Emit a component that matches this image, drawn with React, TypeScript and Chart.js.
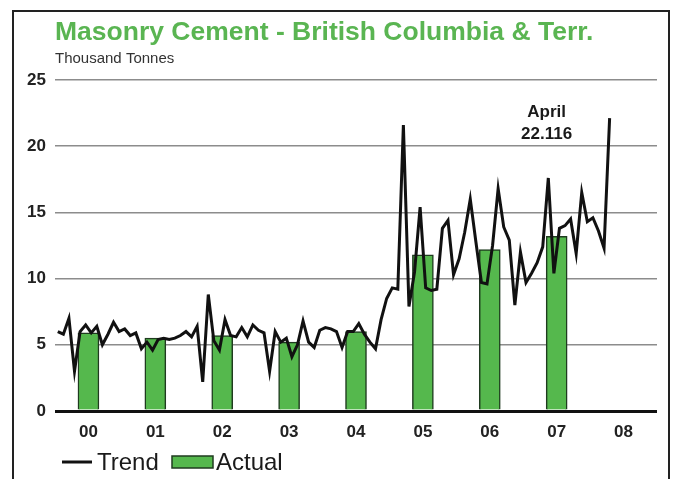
import React, { useEffect, useRef } from 'react';
import { Chart, registerables } from 'chart.js';

Chart.register(...registerables);

const yearLabels = ['00', '01', '02', '03', '04', '05', '06', '07', '08'];

// Monthly trend, Jan 2000 .. Apr 2008 (thousand tonnes)
const trendValues = [
  6.0, 5.8, 7.0, 3.0, 6.0, 6.5, 5.9, 6.4, 5.0, 5.8, 6.7, 6.0,
  6.2, 5.7, 5.9, 4.7, 5.2, 4.6, 5.4, 5.5, 5.4, 5.5, 5.7, 6.0,
  5.6, 6.4, 2.2, 8.8, 5.3, 4.6, 6.9, 5.7, 5.6, 6.3, 5.6, 6.5,
  6.1, 5.9, 3.0, 6.0, 5.2, 5.5, 4.1, 5.0, 6.8, 5.2, 4.8, 6.1,
  6.3, 6.2, 6.0, 4.8, 6.0, 6.0, 6.6, 5.8, 5.2, 4.7, 6.9, 8.5,
  9.3, 9.2, 21.6, 7.9, 10.5, 15.4, 9.3, 9.1, 9.2, 13.8, 14.4, 10.3,
  11.5, 13.5, 16.0, 12.8, 9.7, 9.6, 12.5, 16.8, 13.9, 12.9, 8.0, 12.0,
  9.7, 10.4, 11.2, 12.4, 17.6, 10.4, 13.8, 14.0, 14.5, 11.9, 16.5, 14.3,
  14.6, 13.6, 12.3, 22.116,
];

// Annual actual (monthly average), 2000 .. 2007
const actualValues = [5.9, 5.5, 5.7, 5.2, 6.0, 11.8, 12.2, 13.2];

const titleText = 'Masonry Cement - British Columbia & Terr.';
const subtitleText = 'Thousand Tonnes';
const annotationLabel = 'April';
const annotationValue = '22.116';
const legendTrend = 'Trend';
const legendActual = 'Actual';

const FONT = '"Liberation Sans", Arial, sans-serif';
const GREEN = '#55b84d';
const BAR_BORDER = '#1f3b1f';

export default function App() {
  const ref = useRef<HTMLCanvasElement | null>(null);

  useEffect(() => {
    if (!ref.current) return;
    const trendPoints = trendValues.map((v, i) => ({ x: i + 0.5, y: v }));
    const actualPoints = actualValues.map((v, k) => ({ x: k * 12 + 6, y: v }));

    const decor = {
      id: 'decor',
      beforeDraw(chart: any) {
        const { ctx, width, height } = chart;
        ctx.save();
        ctx.fillStyle = '#ffffff';
        ctx.fillRect(0, 0, width, height);
        ctx.restore();
      },
      afterDraw(chart: any) {
        const { ctx, chartArea } = chart;
        const xs = chart.scales.x;
        const ys = chart.scales.y;
        ctx.save();
        // title + subtitle
        ctx.textAlign = 'left';
        ctx.textBaseline = 'alphabetic';
        ctx.fillStyle = '#5ab552';
        ctx.font = `bold 26.5px ${FONT}`;
        ctx.fillText(titleText, chartArea.left, 40);
        ctx.fillStyle = '#333333';
        ctx.font = `15px ${FONT}`;
        ctx.fillText(subtitleText, chartArea.left, 63);

        // annotation near last point
        const lastX = xs.getPixelForValue(trendPoints[trendPoints.length - 1].x);
        const lastY = ys.getPixelForValue(trendPoints[trendPoints.length - 1].y);
        ctx.fillStyle = '#1a1a1a';
        ctx.textAlign = 'center';
        ctx.font = `bold 17px ${FONT}`;
        ctx.fillText(annotationLabel, lastX - 63, lastY - 1);
        ctx.fillText(annotationValue, lastX - 63, lastY + 21);

        // legend
        const ly = 462;
        ctx.strokeStyle = '#111111';
        ctx.lineWidth = 3;
        ctx.beginPath();
        ctx.moveTo(62, ly);
        ctx.lineTo(92, ly);
        ctx.stroke();
        ctx.textAlign = 'left';
        ctx.textBaseline = 'middle';
        ctx.font = `24px ${FONT}`;
        ctx.fillStyle = '#1a1a1a';
        ctx.fillText(legendTrend, 97, ly + 1);
        ctx.fillStyle = GREEN;
        ctx.fillRect(172, ly - 6, 41, 12);
        ctx.strokeStyle = BAR_BORDER;
        ctx.lineWidth = 1.5;
        ctx.strokeRect(172, ly - 6, 41, 12);
        ctx.fillStyle = '#1a1a1a';
        ctx.fillText(legendActual, 216, ly + 1);

        // frame
        ctx.strokeStyle = '#222222';
        ctx.lineWidth = 2;
        ctx.strokeRect(13, 11, 656, 520);
        ctx.restore();
      },
    };

    const chart = new Chart(ref.current, {
      type: 'bar',
      data: {
        datasets: [
          {
            type: 'line',
            label: legendTrend,
            data: trendPoints,
            borderColor: '#111111',
            borderWidth: 3,
            pointRadius: 0,
            tension: 0,
            order: 1,
          } as any,
          {
            type: 'bar',
            label: legendActual,
            data: actualPoints,
            backgroundColor: GREEN,
            borderColor: BAR_BORDER,
            borderWidth: 1.5,
            barThickness: 21,
            order: 2,
          } as any,
        ],
      },
      options: {
        responsive: false,
        animation: false,
        layout: { padding: { left: 0, right: 23, top: 80, bottom: 38 } },
        plugins: {
          legend: { display: false },
          tooltip: { enabled: false },
          title: { display: false },
        },
        scales: {
          x: {
            type: 'linear',
            min: 0,
            max: yearLabels.length * 12,
            offset: false,
            grid: { display: false, drawTicks: false },
            border: { display: false },
            afterBuildTicks: (scale: any) => {
              scale.ticks = yearLabels.map((_, k) => ({ value: k * 12 + 6 }));
            },
            afterFit: (scale: any) => {
              scale.height = 30;
            },
            ticks: {
              autoSkip: false,
              maxRotation: 0,
              padding: 11,
              color: '#222222',
              font: { family: FONT, size: 17, weight: 'bold' },
              callback: (value: any) => yearLabels[Math.round((Number(value) - 6) / 12)],
            },
          },
          y: {
            min: 0,
            max: 25,
            border: { display: false },
            grid: {
              drawTicks: false,
              color: (c: any) => (c.tick && c.tick.value === 0 ? '#111111' : '#8c8c8c'),
              lineWidth: (c: any) => (c.tick && c.tick.value === 0 ? 3 : 1.5),
            },
            afterFit: (scale: any) => {
              scale.width = 55;
            },
            ticks: {
              stepSize: 5,
              padding: 9,
              color: '#222222',
              font: { family: FONT, size: 17, weight: 'bold' },
            },
          },
        },
      } as any,
      plugins: [decor],
    });
    return () => chart.destroy();
  }, []);

  return (
    <div style={{ position: 'fixed', left: 0, top: 0, width: 680, height: 479, background: '#ffffff' }}>
      <canvas ref={ref} width={680} height={479} style={{ display: 'block' }} />
    </div>
  );
}
